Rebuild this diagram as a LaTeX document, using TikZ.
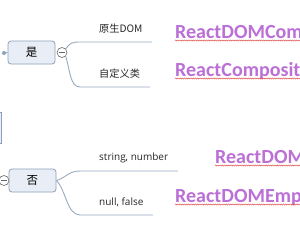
\documentclass[tikz,border=0pt]{standalone}
\usepackage{fontspec}
\setmainfont{Open Sans}
\newfontfamily\cjkf{Noto Sans CJK SC}
\newfontfamily\purplef{Carlito}
\usetikzlibrary{decorations.pathmorphing,calc}
\definecolor{boxfill}{HTML}{E9EEF6}
\definecolor{boxline}{HTML}{8DA0BC}
\definecolor{branch}{HTML}{9AAAC0}
\definecolor{purp}{HTML}{BC6FD6}
\definecolor{wavy}{HTML}{E04040}
\tikzset{
  topic/.style={draw=boxline, fill=boxfill, rounded corners=3pt, line width=0.8pt, minimum width=47pt, minimum height=23pt, inner sep=0pt, font=\cjkf\fontsize{11.5}{11.5}\selectfont},
  fold/.style={circle, draw=gray!80!black, fill=white, line width=0.6pt, minimum size=10pt, inner sep=0pt},
  branchline/.style={draw=branch, line width=0.9pt},
  leaf/.style={anchor=west, inner sep=0pt, text=black!85, font=\fontsize{10}{10}\selectfont},
  cjkleaf/.style={anchor=west, inner sep=0pt, text=black!85, font=\cjkf\fontsize{10.2}{10.2}\selectfont},
  note/.style={anchor=base west, inner sep=0pt, text=purp, font=\purplef\bfseries\fontsize{20}{20}\selectfont},
  squiggle/.style={draw=wavy, line width=0.4pt, decorate, decoration={snake, amplitude=0.6pt, segment length=2.2pt}}
}
\begin{document}
\begin{tikzpicture}[x=1pt,y=-1pt]
\useasboundingbox (0,0) rectangle (300,231);
\clip (0,0) rectangle (300,231);
\fill[white] (0,0) rectangle (300,231);
% partial parent box at left
\node[draw=boxline, fill=boxfill, line width=0.8pt, minimum width=20pt, minimum height=31pt, inner sep=0pt] (parent) at (-9,127.5) {};
% yes topic
\node[topic] (yes) at (31.5,52.5) {是};
\node[circle, fill=boxline, minimum size=4pt, inner sep=0pt] (dot) at (4,53) {};
\draw[branchline] (dot) -- (yes.west);
\node[fold] (yesfold) at (62,52.5) {};
\draw[gray!80!black, line width=0.6pt] ($(yesfold)+(-3,0)$) -- ($(yesfold)+(3,0)$);
% no topic
\node[topic] (no) at (32.5,180.5) {否};
\node[fold] (nofold) at (4,180.5) {};
\draw[gray!80!black, line width=0.6pt] ($(nofold)+(-3,0)$) -- ($(nofold)+(3,0)$);
% branch endpoints
\coordinate (a1) at (80,42); \coordinate (a2) at (152,42);
\coordinate (b1) at (80,87); \coordinate (b2) at (150,87);
\coordinate (c1) at (80,171); \coordinate (c2) at (178,171);
\coordinate (d1) at (80,215); \coordinate (d2) at (153,215);
\draw[branchline] (yesfold.north east) .. controls (70,43) and (72,42) .. (a1) -- (a2);
\draw[branchline] (yesfold.south east) .. controls (70,70) and (70,87) .. (b1) -- (b2);
\draw[branchline] (no.east) .. controls (66,178) and (68,171) .. (c1) -- (c2);
\draw[branchline] (no.east) .. controls (66,190) and (67,215) .. (d1) -- (d2);
% leaf labels
\node[cjkleaf] (l1) at (99,29) {原生DOM};
\node[cjkleaf] (l2) at (99,74) {自定义类};
\node[leaf] (l3) at (99,158) {string, number};
\node[leaf] (l4) at (99,202) {null, false};
% purple notes
\node[note] (n1) at (175,38) {ReactDOMComponent};
\node[note] (n2) at (175,76) {ReactCompositeComponent};
\node[note] (n3) at (215,163) {ReactDOMTextComponent};
\node[note] (n4) at (175,202) {ReactDOMEmptyComponent};
\draw[squiggle] (175,40.5) -- (302,40.5);
\draw[squiggle] (175,78.5) -- (302,78.5);
\draw[squiggle] (215,165.5) -- (302,165.5);
\draw[squiggle] (175,204.5) -- (302,204.5);
\end{tikzpicture}
\end{document}
